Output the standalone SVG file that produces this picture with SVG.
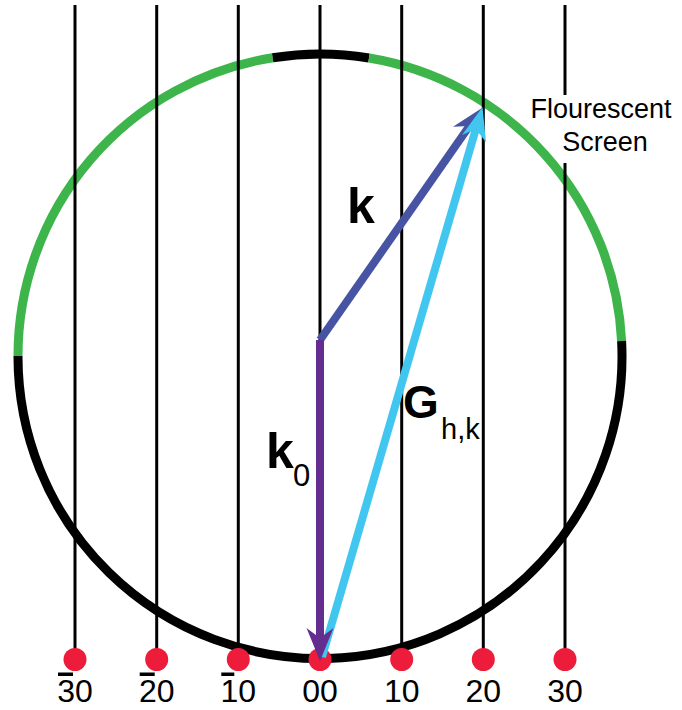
<svg xmlns="http://www.w3.org/2000/svg" width="682" height="710" viewBox="0 0 682 710">
<style>
.ring{fill:none;stroke-width:9}
.g{stroke:#3db54a}
.b{stroke:#000}
.vl{stroke:#000;stroke-width:3;fill:none}
.dot{fill:#ed1c3a}
.lbl{font-family:"Liberation Sans",Arial,sans-serif;fill:#000}
.bold{font-weight:bold}
.bar{fill:#000}
</style>
<rect width="682" height="710" fill="#fff"/>
<g id="screen">
<path class="ring g" d="M18,356 A302,302 0 0 1 272.7,57.7"/>
<path class="ring b" d="M272.7,57.7 A302,302 0 0 1 369,58"/>
<path class="ring g" d="M369,58 A302,302 0 0 1 621.6,341"/>
<path class="ring b" d="M621.6,341 A302,302 0 1 1 18,356"/>
</g>
<g id="connectors">
<line class="vl" x1="75" y1="5" x2="75" y2="650"/>
<line class="vl" x1="156.7" y1="5" x2="156.7" y2="650"/>
<line class="vl" x1="238.3" y1="5" x2="238.3" y2="650"/>
<line class="vl" x1="320" y1="5" x2="320" y2="341"/>
<line class="vl" x1="401.7" y1="5" x2="401.7" y2="650"/>
<line class="vl" x1="483.3" y1="5" x2="483.3" y2="650"/>
<line class="vl" x1="565" y1="5" x2="565" y2="95"/>
<line class="vl" x1="565" y1="163" x2="565" y2="650"/>
</g>
<g id="dots">
<circle class="dot" cx="75" cy="659.5" r="11.5"/>
<circle class="dot" cx="156.7" cy="659.5" r="11.5"/>
<circle class="dot" cx="238.3" cy="659.5" r="11.5"/>
<circle class="dot" cx="320" cy="659.5" r="11.5"/>
<circle class="dot" cx="401.7" cy="659.5" r="11.5"/>
<circle class="dot" cx="483.3" cy="659.5" r="11.5"/>
<circle class="dot" cx="565" cy="659.5" r="11.5"/>
</g>
<g id="arrow-k">
<line x1="320" y1="340" x2="469.4" y2="126" stroke="#4753a3" stroke-width="8"/>
<polygon points="482,108 474.4,141.7 469.4,126 453,126.8" fill="#4753a3"/>
</g>
<g id="arrow-G">
<line x1="322" y1="657" x2="475.8" y2="129.1" stroke="#41c6f0" stroke-width="8"/>
<polygon points="482.5,107 486,142.3 475.8,129.1 462,135.1" fill="#41c6f0"/>
</g>
<g id="arrow-k0">
<line x1="320" y1="340" x2="320" y2="640" stroke="#662d91" stroke-width="8"/>
<polygon points="320,661 306.5,628 320,638 333.5,628" fill="#662d91"/>
</g>
<g id="labels">
<text class="lbl bold" x="347" y="223" font-size="50">k</text>
<text class="lbl bold" x="266" y="468" font-size="50">k</text>
<text class="lbl" x="293" y="486" font-size="31">0</text>
<text class="lbl bold" x="403" y="418" font-size="46">G</text>
<text class="lbl" x="441" y="439" font-size="29">h,k</text>
<text class="lbl" x="601" y="118" font-size="27" text-anchor="middle">Flourescent</text>
<text class="lbl" x="605" y="151" font-size="27" text-anchor="middle">Screen</text>
</g>
<g id="axis-labels">
<text class="lbl" x="75" y="702" font-size="32" text-anchor="middle">30</text>
<rect class="bar" x="58" y="672.5" width="15" height="3.5"/>
<text class="lbl" x="156.7" y="702" font-size="32" text-anchor="middle">20</text>
<rect class="bar" x="139.7" y="672.5" width="15" height="3.5"/>
<text class="lbl" x="238.3" y="702" font-size="32" text-anchor="middle">10</text>
<rect class="bar" x="221.3" y="672.5" width="13" height="3.5"/>
<text class="lbl" x="320" y="702" font-size="32" text-anchor="middle">00</text>
<text class="lbl" x="401.7" y="702" font-size="32" text-anchor="middle">10</text>
<text class="lbl" x="483.3" y="702" font-size="32" text-anchor="middle">20</text>
<text class="lbl" x="565" y="702" font-size="32" text-anchor="middle">30</text>
</g>
</svg>
